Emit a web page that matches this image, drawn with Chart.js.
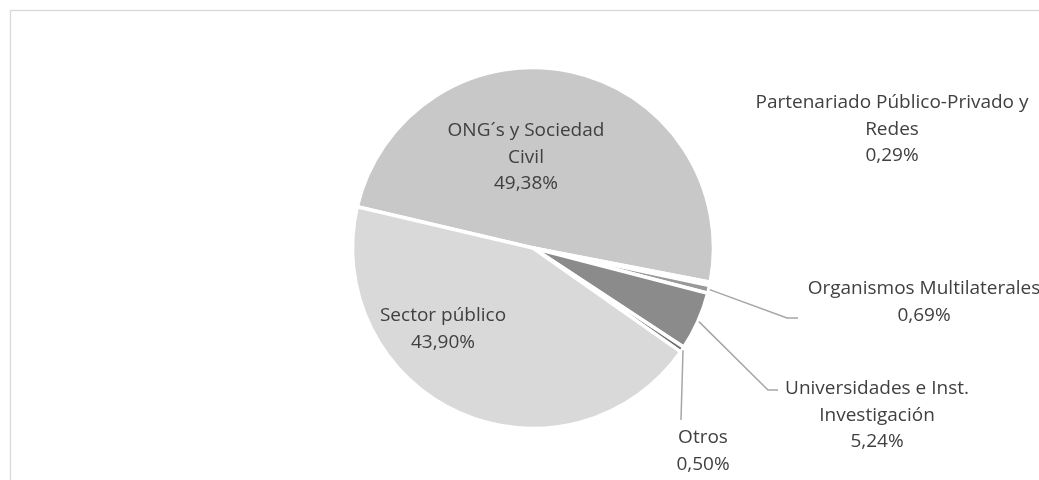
<!DOCTYPE html>
<html>
<head>
<meta charset="utf-8">
<script src="https://cdn.jsdelivr.net/npm/chart.js@4.4.1/dist/chart.umd.min.js"></script>
<style>
  html, body { margin: 0; padding: 0; background: #fff; }
  canvas { display: block; }
</style>
</head>
<body>
<canvas id="pie" width="1039" height="480"></canvas>
<script>
// data
const categories = ['ONG´s y Sociedad Civil', 'Partenariado Público-Privado y Redes', 'Organismos Multilaterales',
  'Universidades e Inst. Investigación', 'Otros', 'Sector público'];
const shares = [49.38, 0.29, 0.69, 5.24, 0.50, 43.90];
const labelLines = [['ONG´s y Sociedad', 'Civil'], ['Partenariado Público-Privado y', 'Redes'], ['Organismos Multilaterales'],
  ['Universidades e Inst.', 'Investigación'], ['Otros'], ['Sector público']];

// look
const sliceColors = ['#c8c8c8', '#a6a6a6', '#999999', '#8b8b8b', '#6f6f6f', '#d9d9d9'];
// where the label text sits (centre of first line) and where its leader line bends
const labelPos = [
  { x: 526, y: 131 }, { x: 892, y: 103 }, { x: 924, y: 289 },
  { x: 877, y: 389 }, { x: 703, y: 438 }, { x: 443, y: 316 }
];
const leaderBend = [null, null, { x: 787, y: 318, endX: 798 }, { x: 768, y: 390, endX: 778 }, { x: 681, y: 420, endX: 681 }, null];
const LINE_H = 26.5;

const fmtPct = v => v.toFixed(2).replace('.', ',') + '%';

const frame = {
  id: 'frame',
  beforeDraw(chart) {
    const ctx = chart.ctx;
    ctx.save();
    ctx.strokeStyle = '#d9d9d9';
    ctx.lineWidth = 1.3;
    ctx.strokeRect(10.5, 10.5, 1200, 700);
    ctx.restore();
  }
};

const pieLabels = {
  id: 'pieLabels',
  afterDatasetsDraw(chart) {
    const ctx = chart.ctx;
    const arcs = chart.getDatasetMeta(0).data;
    ctx.save();
    // leader lines
    ctx.strokeStyle = '#a6a6a6';
    ctx.lineWidth = 1.5;
    arcs.forEach((arc, i) => {
      const b = leaderBend[i];
      if (!b) return;
      const mid = (arc.startAngle + arc.endAngle) / 2;
      const r = arc.outerRadius + 1;
      const sx = arc.x + Math.cos(mid) * r;
      const sy = arc.y + Math.sin(mid) * r;
      ctx.beginPath();
      ctx.moveTo(sx, sy);
      ctx.lineTo(b.x, b.y);
      ctx.lineTo(b.endX, b.y);
      ctx.stroke();
    });
    // texts
    ctx.fillStyle = '#404040';
    ctx.font = '19px "Open Sans"';
    ctx.textAlign = 'center';
    ctx.textBaseline = 'middle';
    labelLines.forEach((lines, i) => {
      const p = labelPos[i];
      const all = lines.concat([fmtPct(shares[i])]);
      all.forEach((t, k) => ctx.fillText(t, p.x, p.y + k * LINE_H));
    });
    ctx.restore();
  }
};

new Chart(document.getElementById('pie'), {
  type: 'pie',
  data: {
    labels: categories,
    datasets: [{
      data: shares,
      backgroundColor: sliceColors,
      borderColor: '#ffffff',
      borderWidth: 3.5,
      radius: 180.5
    }]
  },
  options: {
    responsive: false,
    animation: false,
    rotation: -76.8,
    radius: 180.5,
    layout: { padding: { left: 27, right: 0, top: 16, bottom: 0 } },
    plugins: {
      legend: { display: false },
      tooltip: { enabled: false }
    }
  },
  plugins: [frame, pieLabels]
});
</script>
</body>
</html>
